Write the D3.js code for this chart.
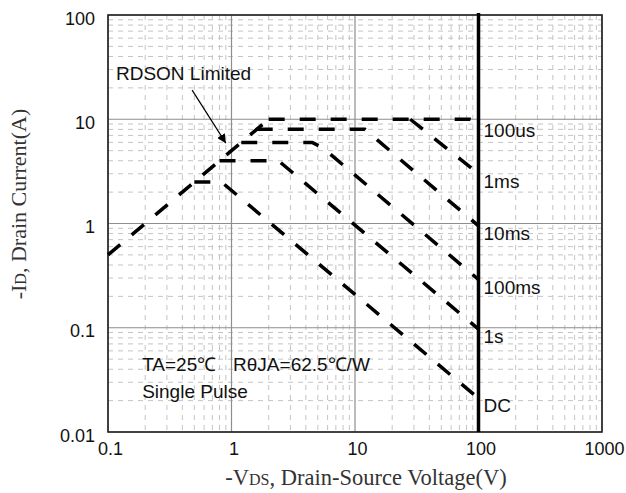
<!DOCTYPE html>
<html>
<head>
<meta charset="utf-8">
<script src="https://cdn.jsdelivr.net/npm/d3@7"></script>
<style>
  body { margin: 0; background: #fff; }
  svg { display: block; }
  .tick text { font-family: "Liberation Sans", Arial, sans-serif; font-size: 18px; fill: #111; }
</style>
</head>
<body>
<svg id="chart" width="626" height="493"></svg>
<script>
// axis decades
const xTicks = [0.1, 1, 10, 100, 1000];
const yTicks = [0.01, 0.1, 1, 10, 100];

// RDSON limit line (V, A)
const rdsonLine = [[0.1, 0.5], [2, 10]];

// SOA curves, each starts on the RDSON line
const curveNames = ['100us', '1ms', '10ms', '100ms', '1s', 'DC'];
const curve100us = [[2, 10], [85, 10], [100, 9.3]];
const curve1ms = [[28, 10], [100, 3]];
const curve10ms = [[1.6, 8], [12, 8], [100, 0.95]];
const curve100ms = [[1.2, 6], [4.5, 6], [5.5, 5.3], [100, 0.29]];
const curve1s = [[0.8, 4], [2.4, 4], [100, 0.097]];
const curveDC = [[0.5, 2.5], [0.83, 2.5], [100, 0.021]];
const curves = [curve100us, curve1ms, curve10ms, curve100ms, curve1s, curveDC];

// annotation anchors (V, A)
const arrowFrom = [0.48, 19];
const arrowTo = [0.9, 5.9];

const margin = { top: 15, right: 24, bottom: 61, left: 108 };
const width = 626 - margin.left - margin.right;
const height = 493 - margin.top - margin.bottom;

const x = d3.scaleLog().domain([0.1, 1000]).range([0, width]);
const y = d3.scaleLog().domain([0.01, 100]).range([height, 0]);

const svg = d3.select('#chart');
const g = svg.append('g').attr('transform', 'translate(' + margin.left + ',' + margin.top + ')');

svg.append('defs').append('marker')
  .attr('id', 'arrow')
  .attr('viewBox', '0 0 10 10')
  .attr('refX', 10).attr('refY', 5)
  .attr('markerWidth', 9).attr('markerHeight', 9)
  .attr('markerUnits', 'userSpaceOnUse')
  .attr('orient', 'auto')
  .append('path').attr('d', 'M0,0 L10,5 L0,10 Z').attr('fill', '#000');

// minor grid
const isDecade = (v) => Math.abs(Math.log10(v) - Math.round(Math.log10(v))) < 1e-6;
const xMinor = x.ticks().filter((v) => !isDecade(v));
const yMinor = y.ticks().filter((v) => !isDecade(v));

g.append('g').selectAll('line').data(xMinor).enter().append('line')
  .attr('x1', (d) => x(d)).attr('x2', (d) => x(d))
  .attr('y1', 0).attr('y2', height)
  .attr('stroke', '#c4c4c4').attr('stroke-width', 1).attr('stroke-dasharray', '5,5');
g.append('g').selectAll('line').data(yMinor).enter().append('line')
  .attr('y1', (d) => y(d)).attr('y2', (d) => y(d))
  .attr('x1', 0).attr('x2', width)
  .attr('stroke', '#c4c4c4').attr('stroke-width', 1).attr('stroke-dasharray', '5,5');

// major grid
g.append('g').selectAll('line').data(xTicks).enter().append('line')
  .attr('x1', (d) => x(d)).attr('x2', (d) => x(d))
  .attr('y1', 0).attr('y2', height)
  .attr('stroke', '#8e8e8e').attr('stroke-width', 1.2);
g.append('g').selectAll('line').data(yTicks).enter().append('line')
  .attr('y1', (d) => y(d)).attr('y2', (d) => y(d))
  .attr('x1', 0).attr('x2', width)
  .attr('stroke', '#8e8e8e').attr('stroke-width', 1.2);

// frame
g.append('rect').attr('width', width).attr('height', height)
  .attr('fill', 'none').attr('stroke', '#222').attr('stroke-width', 1.6);

// axes
const fmt = (d) => d >= 1 ? d3.format('d')(d) : String(d);
g.append('g').attr('transform', 'translate(0,' + height + ')')
  .call(d3.axisBottom(x).tickValues(xTicks).tickFormat(fmt).tickSize(0).tickPadding(10))
  .call((a) => a.select('.domain').remove())
  .selectAll('text').attr('dx', 2);
g.append('g')
  .call(d3.axisLeft(y).tickValues(yTicks).tickFormat(fmt).tickSize(0).tickPadding(13))
  .call((a) => a.select('.domain').remove())
  .selectAll('text').attr('dy', '0.5em');

// 100V limit
g.append('line')
  .attr('x1', x(100)).attr('x2', x(100)).attr('y1', -2).attr('y2', height)
  .attr('stroke', '#000').attr('stroke-width', 3.5);

// curves
const line = d3.line().x((d) => x(d[0])).y((d) => y(d[1]));
const dashStyle = (sel) => sel.attr('fill', 'none').attr('stroke', '#000')
  .attr('stroke-width', 3.5).attr('stroke-dasharray', '16,15');

g.append('path').datum(rdsonLine).attr('d', line).call(dashStyle);
g.append('g').selectAll('path').data(curves).enter().append('path')
  .attr('d', line).call(dashStyle);

// curve labels
const labelFont = '"Liberation Sans", Arial, sans-serif';
g.append('g').selectAll('text').data(curves).enter().append('text')
  .attr('x', x(100) + 5)
  .attr('y', (d) => y(d[d.length - 1][1]) + 14)
  .attr('font-family', labelFont).attr('font-size', 19).attr('fill', '#111')
  .text((d, i) => curveNames[i]);

// annotations
g.append('text').attr('x', x(0.116)).attr('y', y(19) - 10)
  .attr('font-family', labelFont).attr('font-size', 19).attr('fill', '#111')
  .text('RDSON Limited');
g.append('line')
  .attr('x1', x(arrowFrom[0])).attr('y1', y(arrowFrom[1]))
  .attr('x2', x(arrowTo[0])).attr('y2', y(arrowTo[1]))
  .attr('stroke', '#000').attr('stroke-width', 1.2).attr('marker-end', 'url(#arrow)');

const cond = g.append('text').attr('x', x(0.189)).attr('y', y(0.05) + 12)
  .attr('font-family', labelFont).attr('font-size', 19).attr('fill', '#111');
cond.append('tspan').text('TA=25℃');
cond.append('tspan').attr('x', x(1.03)).text('RθJA=62.5℃/W');
g.append('text').attr('x', x(0.189)).attr('y', y(0.05) + 39)
  .attr('font-family', labelFont).attr('font-size', 19).attr('fill', '#111')
  .text('Single Pulse');

// axis titles
const titleFont = '"Liberation Serif", "Times New Roman", serif';
const xt = svg.append('text')
  .attr('x', 366).attr('y', 485)
  .attr('text-anchor', 'middle')
  .attr('font-family', titleFont).attr('font-size', 22.5).attr('fill', '#333');
xt.append('tspan').text('-V');
xt.append('tspan').attr('font-size', 16).text('DS');
xt.append('tspan').text(', Drain-Source Voltage(V)');

const yt = svg.append('text')
  .attr('transform', 'translate(26,204) rotate(-90)')
  .attr('text-anchor', 'middle')
  .attr('font-family', titleFont).attr('font-size', 22).attr('fill', '#333');
yt.append('tspan').text('-I');
yt.append('tspan').attr('font-size', 16).text('D');
yt.append('tspan').text(', Drain Current(A)');
</script>
</body>
</html>
